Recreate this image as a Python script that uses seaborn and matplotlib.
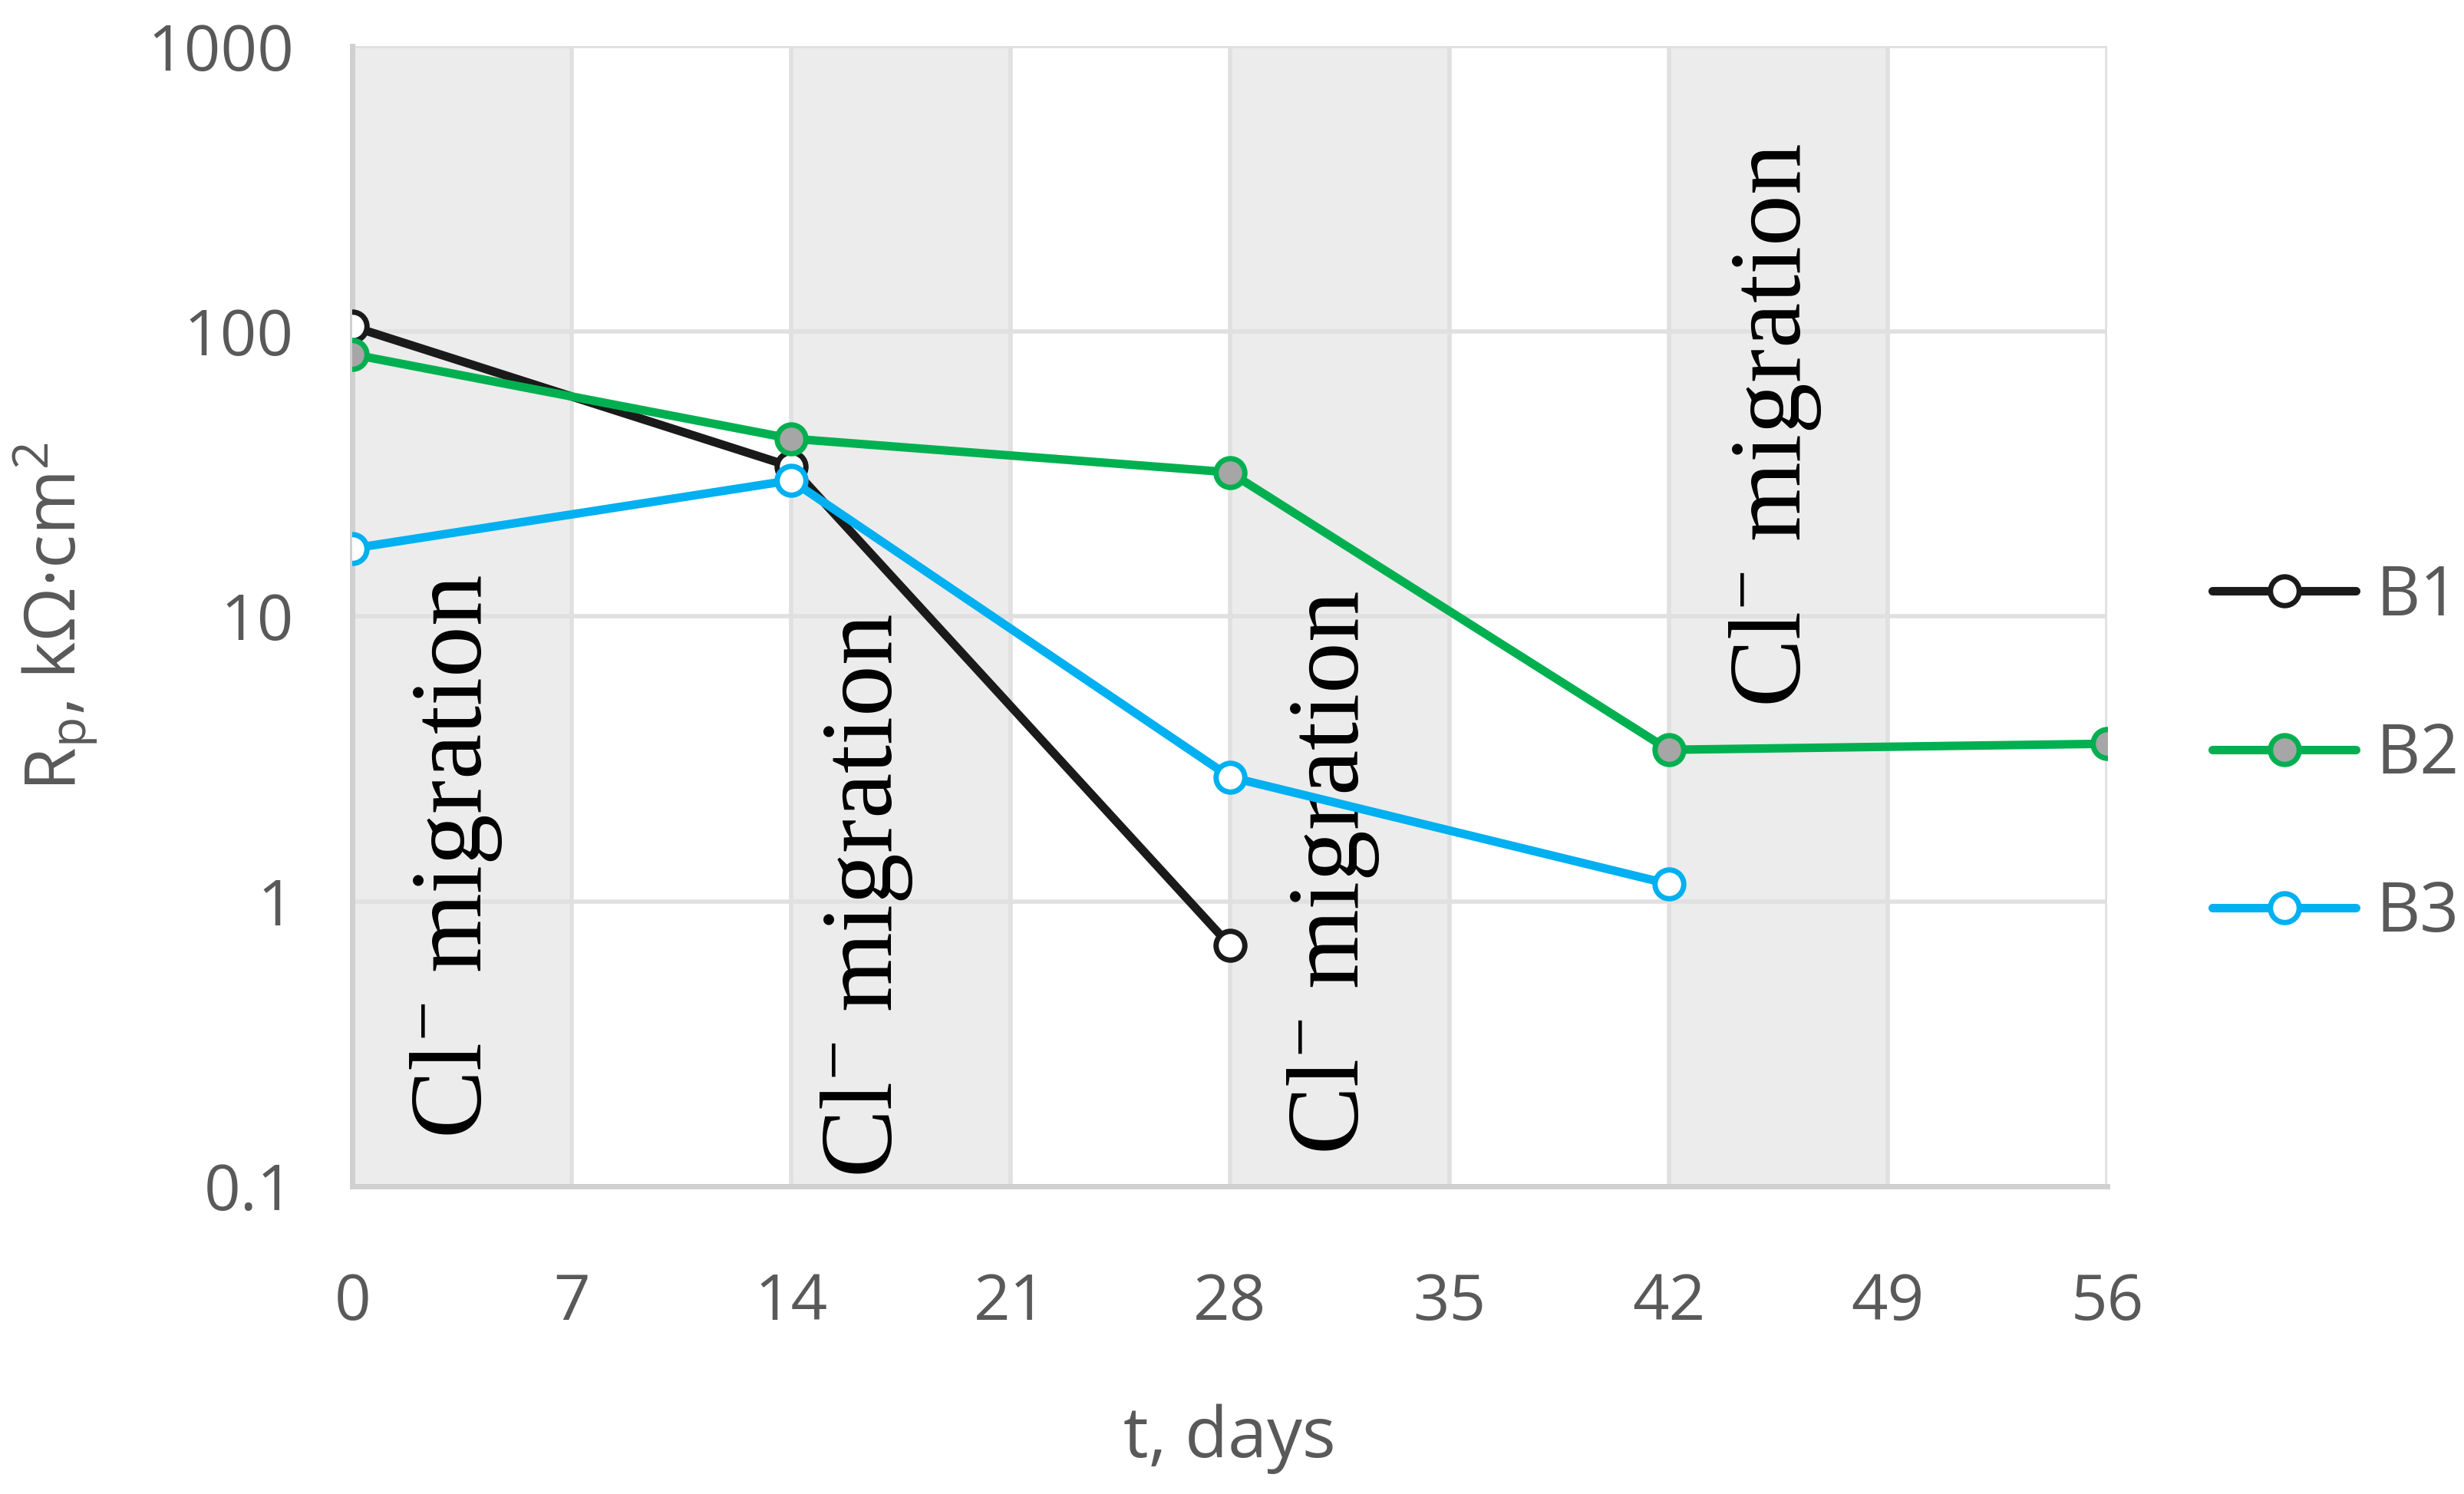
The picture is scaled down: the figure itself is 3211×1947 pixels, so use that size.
import numpy as np
import pandas as pd
import matplotlib
matplotlib.use("Agg")
import matplotlib.pyplot as plt
import matplotlib.ticker as mticker
import seaborn as sns

# values (log scale, kOhm*cm2)
days_b1 = [0, 14, 28]
rp_b1 = [104, 33.5, 0.70]
days_b2 = [0, 14, 28, 42, 56]
rp_b2 = [83, 42, 32, 3.4, 3.57]
days_b3 = [0, 14, 28, 42]
rp_b3 = [17.3, 30, 2.73, 1.15]

series_names = ["B1", "B2", "B3"]
x_ticks = [0, 7, 14, 21, 28, 35, 42, 49, 56]
y_ticks = [0.1, 1, 10, 100, 1000]
band_starts = [0, 14, 28, 42]
band_width = 7
band_label = "Cl$^{-}$ migration"
# label anchor positions (day, value at lower end of text)
label_x = [3.3, 16.4, 31.3, 45.4]
label_y = [0.147, 0.107, 0.129, 4.8]

df = pd.concat([
    pd.DataFrame({"day": days_b1, "rp": rp_b1, "series": "B1"}),
    pd.DataFrame({"day": days_b2, "rp": rp_b2, "series": "B2"}),
    pd.DataFrame({"day": days_b3, "rp": rp_b3, "series": "B3"}),
])

sns.set_theme(style="white")
plt.rcParams['font.family'] = ['Open Sans', 'DejaVu Sans']
plt.rcParams['mathtext.default'] = 'regular'

fig = plt.figure(figsize=(32.12, 19.47), dpi=100)
ax = fig.add_axes([0.143, 0.206, 0.712, 0.763])

# shaded migration periods
for s in band_starts:
    ax.axvspan(s, s + band_width, color="#ececec", zorder=0, lw=0)

styles = {
    "B1": dict(color="#1a1a1a", mfc="white"),
    "B2": dict(color="#00b050", mfc="#a6a6a6"),
    "B3": dict(color="#00b0f0", mfc="white"),
}
for name in series_names:
    sub = df[df["series"] == name]
    st = styles[name]
    sns.lineplot(data=sub, x="day", y="rp", ax=ax, color=st["color"],
                 linewidth=8, marker="o", markersize=27,
                 markerfacecolor=st["mfc"], markeredgecolor=st["color"],
                 markeredgewidth=5, label=name, zorder=3)

for lx, ly in zip(label_x, label_y):
    ax.text(lx, ly, band_label, rotation=90, ha="center", va="bottom",
            fontsize=96, family=["Liberation Serif", "DejaVu Serif"],
            color="black", zorder=2)

ax.set_yscale("log")
ax.set_ylim(0.1, 1000)
ax.set_xlim(0, 56)
ax.set_xticks(x_ticks)
ax.set_yticks(y_ticks)
ax.yaxis.set_major_formatter(mticker.FuncFormatter(lambda v, p: f"{v:g}"))
ax.yaxis.set_minor_locator(mticker.NullLocator())
ax.grid(True, which="major", color="#e0e0e0", lw=4, zorder=1)
ax.set_axisbelow(True)
ax.tick_params(axis="both", length=0, labelsize=60, labelcolor="#595959")
ax.tick_params(axis="x", pad=80)
ax.tick_params(axis="y", pad=55)

for side in ["top", "right"]:
    ax.spines[side].set_visible(False)
for side in ["left", "bottom"]:
    ax.spines[side].set_color("#d0d0d0")
    ax.spines[side].set_linewidth(5)

ax.set_xlabel("t, days", fontsize=66, color="#595959", labelpad=65)
ax.set_ylabel("R$_p$, kΩ·cm$^2$", fontsize=66, color="#595959", labelpad=45)

ax.legend(loc="center left", bbox_to_anchor=(1.025, 0.378), frameon=False,
          fontsize=64, handlelength=2.1, handletextpad=0.3, labelspacing=1.3,
          labelcolor="#595959")

fig.savefig("out.png", dpi=100)
